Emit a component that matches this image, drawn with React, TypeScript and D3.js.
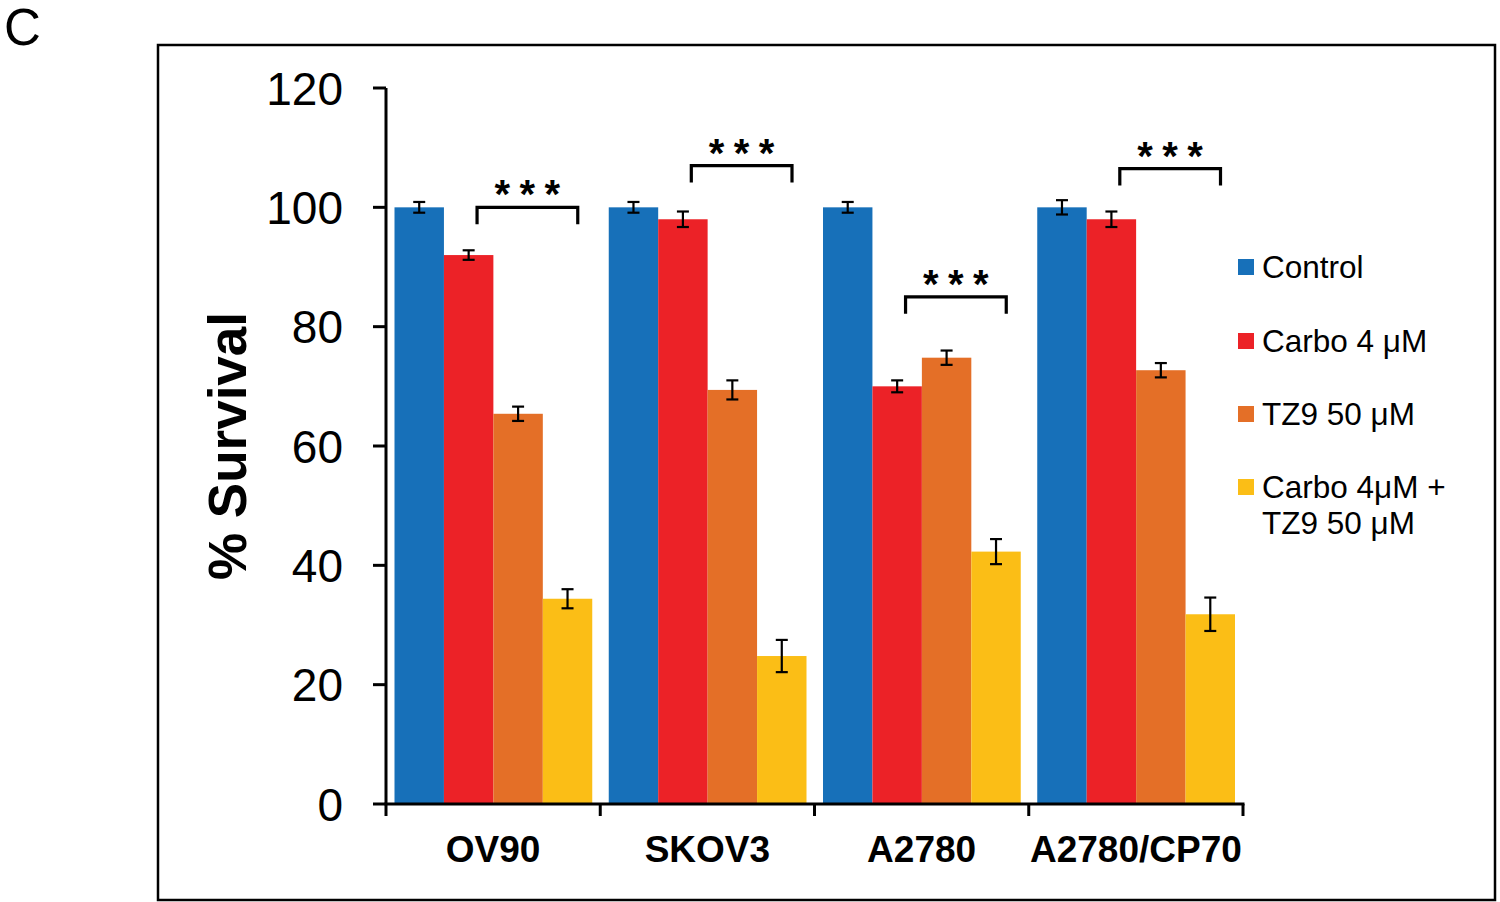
import * as d3 from 'd3'

const cellLines = ['OV90', 'SKOV3', 'A2780', 'A2780/CP70']
const treatments = ['Control', 'Carbo 4 μM', 'TZ9 50 μM', 'Carbo 4μM + TZ9 50 μM']
const legendLines = [['Control'], ['Carbo 4 μM'], ['TZ9 50 μM'], ['Carbo 4μM +', 'TZ9 50 μM']]
const colors = ['#1770B9', '#EC2227', '#E46F27', '#FBBE16']

// survival per cell line, in treatment order
const survival = [
  [100, 92, 65.4, 34.4],
  [100, 98, 69.4, 24.8],
  [100, 70, 74.8, 42.3],
  [100, 98, 72.7, 31.8],
]
const errors = [
  [0.9, 0.8, 1.2, 1.6],
  [0.9, 1.3, 1.6, 2.7],
  [0.9, 1.0, 1.2, 2.1],
  [1.2, 1.3, 1.2, 2.8],
]
// significance bracket height (in % survival) per cell line
const bracketLevel = [100, 107, 85, 106.5]
const yTicks = [0, 20, 40, 60, 80, 100, 120]

const W = 1500
const H = 902
const FONT = '"Liberation Sans", Arial, Helvetica, sans-serif'

export default function App() {
  const x0 = 386
  const x1 = 1243
  const yTop = 88
  const yBottom = 804

  const y = d3.scaleLinear().domain([0, 120]).range([yBottom, yTop])
  const xGroup = d3.scaleBand<string>().domain(cellLines).range([x0, x1])
  const gw = xGroup.bandwidth()
  const xBar = d3.scaleBand<string>().domain(treatments).range([8.5, gw - 8])

  return (
    <svg width={W} height={H} style={{ position: 'absolute', left: 0, top: 0 }} fontFamily={FONT}>
      <rect width={W} height={H} fill="#fff" />
      <text x={4} y={45} fontSize={51}>C</text>
      <rect x={158} y={45} width={1337} height={855} fill="none" stroke="#000" strokeWidth={2.5} />

      {/* bars */}
      {cellLines.map((cl, gi) => (
        <g key={cl} transform={`translate(${xGroup(cl)},0)`}>
          {treatments.map((t, ti) => {
            const v = survival[gi][ti]
            const e = errors[gi][ti]
            const bx = xBar(t)!
            const cx = bx + xBar.bandwidth() / 2
            return (
              <g key={t}>
                <rect x={bx} y={y(v)} width={xBar.bandwidth()} height={y(0) - y(v)} fill={colors[ti]} />
                <g stroke="#000" strokeWidth={2.2}>
                  <line x1={cx} x2={cx} y1={y(v + e)} y2={y(v - e)} />
                  <line x1={cx - 6} x2={cx + 6} y1={y(v + e)} y2={y(v + e)} />
                  <line x1={cx - 6} x2={cx + 6} y1={y(v - e)} y2={y(v - e)} />
                </g>
              </g>
            )
          })}
        </g>
      ))}

      {/* significance brackets */}
      {cellLines.map((cl, gi) => {
        const bx1 = xGroup(cl)! + gw * 0.425
        const bx2 = bx1 + gw * 0.47
        const by = y(bracketLevel[gi])
        const mid = (bx1 + bx2) / 2
        return (
          <g key={cl + '-sig'}>
            <path d={`M${bx1},${by + 17}V${by}H${bx2}V${by + 17}`} fill="none" stroke="#000" strokeWidth={3.2} />
            {[-1, 0, 1].map(k => (
              <text key={k} x={mid + k * 25} y={by + 1} fontSize={40} fontWeight="bold" textAnchor="middle">*</text>
            ))}
          </g>
        )
      })}

      {/* y axis */}
      <line x1={x0} x2={x0} y1={yTop} y2={yBottom} stroke="#000" strokeWidth={3} />
      {yTicks.map(t => (
        <g key={t}>
          <line x1={x0 - 13} x2={x0} y1={y(t)} y2={y(t)} stroke="#000" strokeWidth={3} />
          <text x={343} y={y(t)} dy="0.36em" fontSize={46} textAnchor="end">{t}</text>
        </g>
      ))}

      {/* x axis */}
      <line x1={x0 - 1.5} x2={x1 + 1.5} y1={yBottom} y2={yBottom} stroke="#000" strokeWidth={3} />
      {[...cellLines.map(c => xGroup(c)!), x1].map((t, i) => (
        <line key={i} x1={t} x2={t} y1={yBottom} y2={yBottom + 12} stroke="#000" strokeWidth={3} />
      ))}
      {cellLines.map(cl => (
        <text key={cl} x={xGroup(cl)! + gw / 2} y={862} fontSize={37} fontWeight="bold" textAnchor="middle">{cl}</text>
      ))}

      <text transform={`translate(246,${446}) rotate(-90)`} fontSize={53} fontWeight="bold" textAnchor="middle">% Survival</text>

      {/* legend */}
      {legendLines.map((lines, i) => {
        const ly = [267, 341, 414, 487][i]
        return (
          <g key={i}>
            <rect x={1238} y={ly - 8} width={16} height={16} fill={colors[i]} />
            {lines.map((l, li) => (
              <text key={li} x={1262} y={ly + li * 36} dy="0.36em" fontSize={31.5}>{l}</text>
            ))}
          </g>
        )
      })}
    </svg>
  )
}
